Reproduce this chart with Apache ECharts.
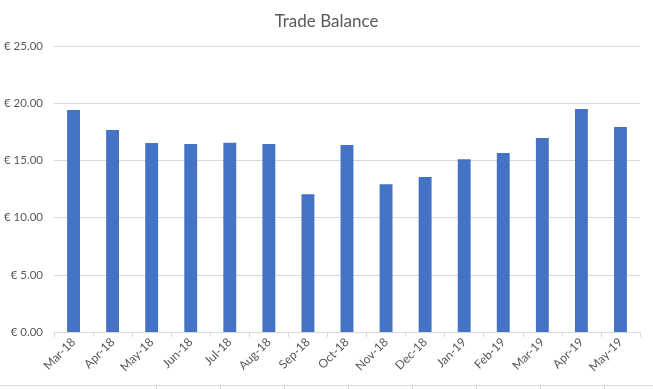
<!DOCTYPE html>
<html>
<head>
<meta charset="utf-8">
<script src="https://cdn.jsdelivr.net/npm/echarts@6/dist/echarts.min.js"></script>
<style>
html,body{margin:0;padding:0;background:#fff;}
#chart{width:653px;height:389px;}
</style>
</head>
<body>
<div id="chart"></div>
<script>
const categories = ['Mar-18','Apr-18','May-18','Jun-18','Jul-18','Aug-18','Sep-18','Oct-18','Nov-18','Dec-18','Jan-19','Feb-19','Mar-19','Apr-19','May-19'];
const tradeBalance = [19.41, 17.66, 16.52, 16.43, 16.54, 16.43, 12.04, 16.34, 12.92, 13.54, 15.11, 15.64, 16.96, 19.50, 17.92];
const yTicks = [0, 5, 10, 15, 20, 25];

const chart = echarts.init(document.getElementById('chart'));
const sheetLineX = [156, 220, 284, 348, 412, 476, 540, 604];
const graphics = [{
  type: 'line', shape: {x1: 0, y1: 385.5, x2: 653, y2: 385.5},
  style: {stroke: '#d9d9d9', lineWidth: 1}
}].concat(sheetLineX.map(x => ({
  type: 'line', shape: {x1: x + 0.5, y1: 385.5, x2: x + 0.5, y2: 389},
  style: {stroke: '#d9d9d9', lineWidth: 1}
})));

chart.setOption({
  animation: false,
  backgroundColor: '#ffffff',
  title: {
    text: 'Trade Balance',
    left: 'center',
    top: 8,
    textStyle: {fontFamily: 'Lato, "Open Sans", sans-serif', fontSize: 17, fontWeight: 'normal', color: '#595959'}
  },
  grid: {left: 54, right: 13, top: 46, bottom: 57, containLabel: false},
  graphic: graphics,
  xAxis: {
    type: 'category',
    data: categories,
    boundaryGap: true,
    axisLine: {lineStyle: {color: '#d9d9d9'}},
    axisTick: {show: true, length: 5, lineStyle: {color: '#d9d9d9'}},
    axisLabel: {rotate: 45, color: '#595959', fontSize: 12, fontFamily: 'Lato, "Open Sans", sans-serif', margin: 8, interval: 0}
  },
  yAxis: {
    type: 'value',
    min: yTicks[0],
    max: yTicks[yTicks.length - 1],
    interval: 5,
    axisLine: {show: false},
    axisTick: {show: false},
    splitLine: {lineStyle: {color: '#d9d9d9'}},
    axisLabel: {
      color: '#595959', fontSize: 11.5, fontFamily: 'Lato, "Open Sans", sans-serif', margin: 11,
      formatter: v => '€ ' + v.toFixed(2)
    }
  },
  series: [{
    type: 'bar',
    data: tradeBalance,
    barWidth: '33%',
    itemStyle: {color: '#4472c4'}
  }]
});
</script>
</body>
</html>
